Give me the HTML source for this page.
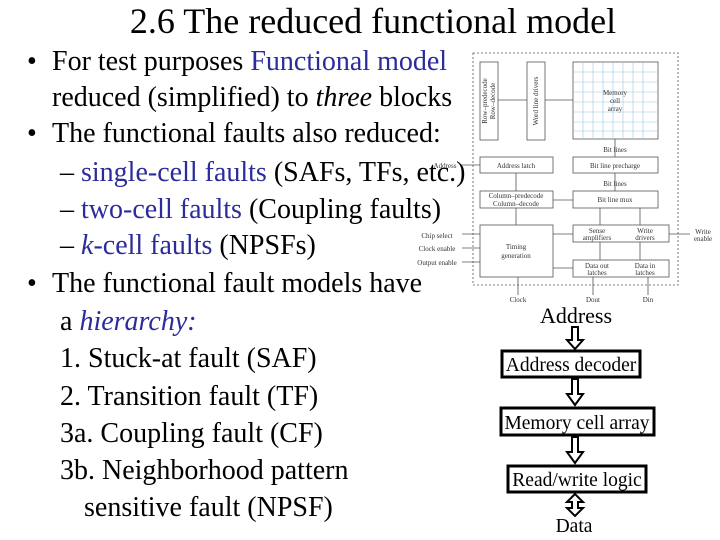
<!DOCTYPE html>
<html><head><meta charset="utf-8"><style>
body{margin:0;width:720px;height:540px;background:#fff;overflow:hidden;position:relative}
svg{position:absolute;left:0;top:0}
</style></head><body>
<svg width="720" height="540" viewBox="0 0 720 540" font-family="Liberation Serif, serif">
<text x="373" y="33" font-size="36" text-anchor="middle">2.6 The reduced functional model</text>
<g font-size="28" fill="#000">
<text x="27" y="70">•</text>
<text x="52" y="70">For test purposes <tspan fill="#2b2b9b">Functional model</tspan></text>
<text x="52" y="106">reduced (simplified) to <tspan font-style="italic">three</tspan> blocks</text>
<text x="27" y="142">•</text>
<text x="52" y="142">The functional faults also reduced:</text>
<text x="60" y="181">– <tspan fill="#2b2b9b">single-cell faults</tspan> (SAFs, TFs, etc.)</text>
<text x="60" y="218">– <tspan fill="#2b2b9b">two-cell faults</tspan> (Coupling faults)</text>
<text x="60" y="254">– <tspan fill="#2b2b9b"><tspan font-style="italic">k</tspan>-cell faults</tspan> (NPSFs)</text>
<text x="27" y="292">•</text>
<text x="52" y="292">The functional fault models have</text>
<text x="60" y="330">a <tspan fill="#2b2b9b" font-style="italic">hierarchy:</tspan></text>
<text x="60" y="367">1. Stuck-at fault (SAF)</text>
<text x="60" y="405">2. Transition fault (TF)</text>
<text x="60" y="442">3a. Coupling fault (CF)</text>
<text x="60" y="479">3b. Neighborhood pattern</text>
<text x="84" y="516">sensitive fault (NPSF)</text>
</g>
<g stroke="#555" fill="none" stroke-width="0.8">
<rect x="473" y="53" width="205" height="232" stroke-dasharray="2,2"/>
<rect x="480" y="62" width="18" height="78"/>
<rect x="527" y="62" width="18" height="78"/>
<rect x="573" y="62" width="85" height="77"/>
<rect x="480" y="157" width="73" height="16"/>
<rect x="573" y="157" width="85" height="16"/>
<rect x="480" y="191" width="73" height="17"/>
<rect x="573" y="191" width="85" height="17"/>
<rect x="480" y="225" width="73" height="52"/>
<rect x="573" y="225" width="96" height="17"/>
<rect x="573" y="260" width="96" height="17"/>
<path d="M498 100H527M545 100H573M553 200H573M553 234H573M553 268H573M516 173V191M516 208V225M600 208V225M640 208V225M600 242V260M640 242V260M593 277V295M648 277V295M518 277V295M669 234H690M462 234H480M462 248H480M462 262H480M462 165H480M615 139V157M615 173V191"/>
</g>
<g stroke="#9cc8e0" stroke-width="0.6">
<path d="M573 72H658M573 82H658M573 92H658M573 102H658M573 112H658M573 122H658M573 131H658M583 62V139M593 62V139M603 62V139M613 62V139M623 62V139M633 62V139M643 62V139"/>
</g>
<g font-size="7" fill="#333" text-anchor="middle">
<text transform="translate(487,101) rotate(-90)">Row–predecode</text>
<text transform="translate(495,101) rotate(-90)">Row–decode</text>
<text transform="translate(538,101) rotate(-90)">Word line drivers</text>
<text x="615" y="95">Memory</text><text x="615" y="103">cell</text><text x="615" y="111">array</text>
<text x="516" y="168">Address latch</text>
<text x="615" y="168">Bit line precharge</text>
<text x="516" y="198">Column–predecode</text><text x="516" y="206">Column–decode</text>
<text x="615" y="202">Bit line mux</text>
<text x="516" y="249">Timing</text><text x="516" y="258">generation</text>
<text x="597" y="233">Sense</text><text x="597" y="240">amplifiers</text>
<text x="645" y="233">Write</text><text x="645" y="240">drivers</text>
<text x="597" y="268">Data out</text><text x="597" y="275">latches</text>
<text x="645" y="268">Data in</text><text x="645" y="275">latches</text>
<text x="518" y="302">Clock</text><text x="593" y="302">Dout</text><text x="648" y="302">Din</text>
<text x="703" y="234">Write</text><text x="703" y="241">enable</text>
<text x="615" y="152">Bit    lines</text><text x="615" y="186">Bit    lines</text>
<text x="445" y="168">Address</text>
<text x="437" y="238">Chip select</text>
<text x="437" y="251">Clock enable</text>
<text x="437" y="265">Output enable</text>
</g>
<text x="576" y="323" font-size="22" text-anchor="middle">Address</text>
<g stroke="#000" stroke-width="3" fill="#fff">
<rect x="502" y="351" width="138" height="26"/>
<rect x="501" y="408" width="153" height="27"/>
<rect x="508" y="466" width="138" height="26"/>
</g>
<g stroke="#000" stroke-width="2" fill="#fff">
<path d="M572 327V340H567L575 349L583 340H578V327Z"/>
<path d="M572 379V394H567L575 405L583 394H578V379Z"/>
<path d="M572 437V452H567L575 463L583 452H578V437Z"/>
<path d="M575 494L567 502H572V508H567L575 516L583 508H578V502H583Z"/>
</g>
<g font-size="19.5" text-anchor="middle">
<text x="571" y="371">Address decoder</text>
<text x="577" y="429">Memory cell array</text>
<text x="577" y="486">Read/write logic</text>
<text x="574" y="532">Data</text>
</g>
</svg>
</body></html>
